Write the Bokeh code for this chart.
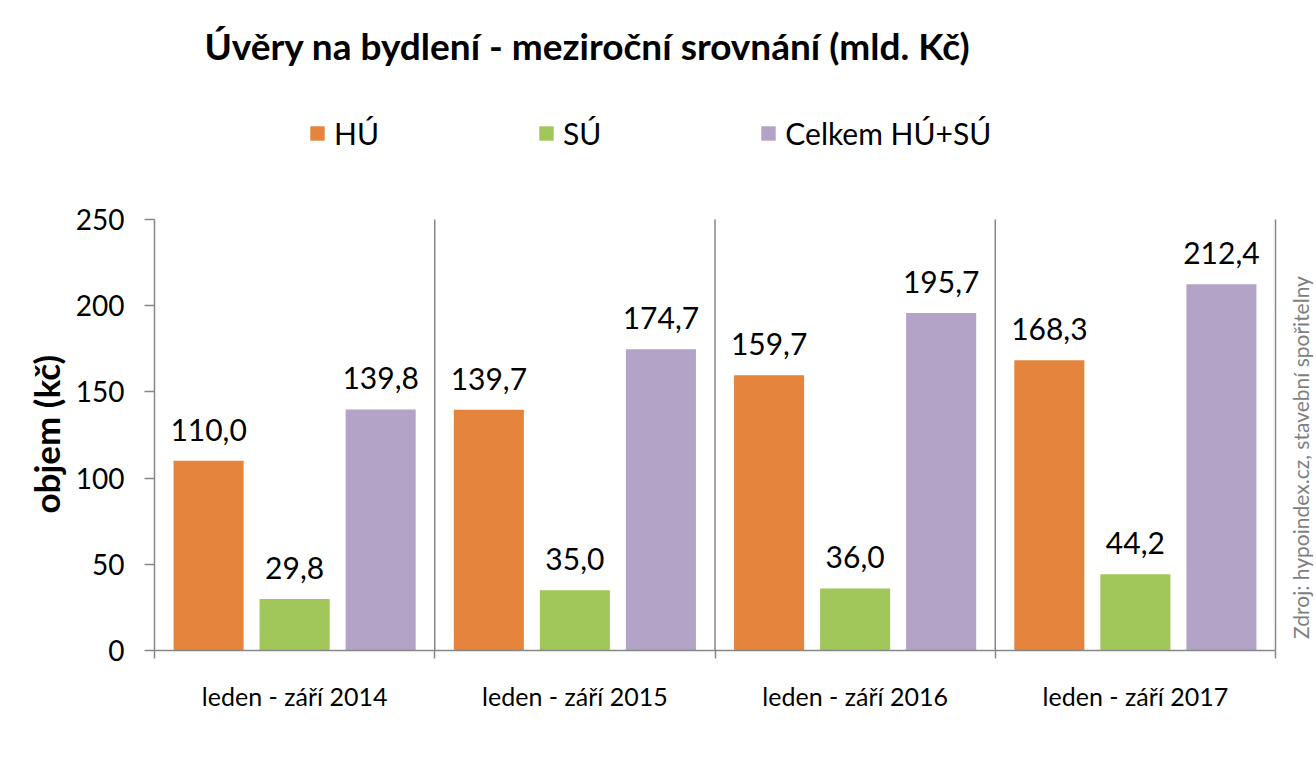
import math
from bokeh.plotting import figure
from bokeh.models import (ColumnDataSource, Range1d, FixedTicker, Legend, LegendItem, Label, Title)
from bokeh.core.properties import value
from bokeh.embed import file_html
from bokeh.resources import INLINE

# ---- data ----
categories = ["leden - září 2014", "leden - září 2015", "leden - září 2016", "leden - září 2017"]
series_names = ["HÚ", "SÚ", "Celkem HÚ+SÚ"]
hu = [110.0, 139.7, 159.7, 168.3]
su = [29.8, 35.0, 36.0, 44.2]
celkem = [139.8, 174.7, 195.7, 212.4]
y_ticks = [0, 50, 100, 150, 200, 250]
title_text = "Úvěry na bydlení - meziroční srovnání (mld. Kč)"
y_title = "objem (kč)"
source_text = "Zdroj: hypoindex.cz, stavební spořitelny"

colors = ["#E5843D", "#A1C65A", "#B2A3C7"]
offsets = [-0.307, 0.0, 0.307]
bar_w = 0.25
FONT = "Lato"
GRAY = "#878787"

centers = [i + 0.5 for i in range(len(categories))]
n_cat = len(categories)

# frame: x 154..1316 px, y 0..650 px; the axes themselves cover 0..4 and 0..250
PX_PER_CAT = 280.25
PX_PER_UNIT = 431 / 250
x_end = (1316 - 154) / PX_PER_CAT
y_end = 650 / PX_PER_UNIT

p = figure(width=1316, height=764, output_backend="svg", toolbar_location=None,
           x_range=Range1d(0, x_end), y_range=Range1d(0, y_end))
p.min_border_left = 154
p.min_border_right = 0
p.min_border_top = 0
p.min_border_bottom = 114
p.outline_line_color = None
p.xgrid.visible = False
p.ygrid.visible = False
p.background_fill_color = "white"
p.border_fill_color = "white"

# separators between categories
p.segment(x0=list(range(1, n_cat + 1)), y0=[0] * n_cat, x1=list(range(1, n_cat + 1)),
          y1=[max(y_ticks)] * n_cat, line_color=GRAY, line_width=1.5)

renderers = []
for vals, col, off in zip([hu, su, celkem], colors, offsets):
    xs = [c + off for c in centers]
    src = ColumnDataSource(dict(x=xs, top=vals, lab=[f"{v:.1f}".replace(".", ",") for v in vals]))
    r = p.vbar(x="x", top="top", width=bar_w, bottom=0, source=src,
               fill_color=col, line_color=None)
    renderers.append(r)
    p.text(x="x", y="top", text="lab", source=src, text_align="center",
           text_baseline="alphabetic", y_offset=-31, text_font=value(FONT),
           text_font_size="30px", text_color="black")

# axes
p.yaxis.bounds = (0, max(y_ticks))
p.yaxis.ticker = FixedTicker(ticks=y_ticks)
p.yaxis.axis_line_color = GRAY
p.yaxis.axis_line_width = 1.5
p.yaxis.major_tick_line_color = GRAY
p.yaxis.major_tick_line_width = 1.5
p.yaxis.major_tick_in = 0
p.yaxis.major_tick_out = 10
p.yaxis.minor_tick_line_color = None
p.yaxis.major_label_text_font = FONT
p.yaxis.major_label_text_font_size = "28px"
p.yaxis.major_label_text_color = "black"
p.yaxis.major_label_standoff = 20

p.xaxis.bounds = (0, n_cat)
p.xaxis.ticker = FixedTicker(ticks=centers, minor_ticks=list(range(n_cat + 1)))
p.xaxis.major_label_overrides = {c: lab for c, lab in zip(centers, categories)}
p.xaxis.axis_line_color = GRAY
p.xaxis.axis_line_width = 1.5
p.xaxis.major_tick_line_color = None
p.xaxis.major_tick_in = 0
p.xaxis.major_tick_out = 0
p.xaxis.minor_tick_line_color = GRAY
p.xaxis.minor_tick_line_width = 1.5
p.xaxis.minor_tick_in = 0
p.xaxis.minor_tick_out = 8
p.xaxis.major_label_text_font = FONT
p.xaxis.major_label_text_font_size = "25px"
p.xaxis.major_label_text_color = "black"
p.xaxis.major_label_standoff = 22

# y-axis title, placed along the 0..250 extent of the axis
p.add_layout(Title(text=y_title, align="left", offset=137, vertical_align="middle",
                   standoff=10, text_font=FONT, text_font_style="bold",
                   text_font_size="35px", text_color="black"), "left")

# legend (inside the frame area, above the axes' extent)
legend = Legend(items=[LegendItem(label=n, renderers=[r]) for n, r in zip(series_names, renderers)],
                orientation="horizontal", location=(154, 499), spacing=158,
                glyph_width=18, glyph_height=18, label_standoff=8, label_height=30,
                label_text_font=FONT, label_text_font_size="30px", label_text_color="black",
                padding=0, margin=0, border_line_color=None, background_fill_alpha=0)
p.add_layout(legend, "center")

# title and source note
p.add_layout(Label(x=433, y=605, x_units="screen", y_units="screen", text=title_text,
                   text_align="center", text_baseline="middle", text_font=FONT,
                   text_font_style="bold", text_font_size="37px", text_color="black"))
p.add_layout(Label(x=1146, y=193, x_units="screen", y_units="screen", text=source_text,
                   angle=math.pi / 2, text_align="center", text_baseline="middle",
                   text_font=FONT, text_font_size="21px", text_color="#7F7F7F"))

open("out.html", "w").write(file_html(p, INLINE))
